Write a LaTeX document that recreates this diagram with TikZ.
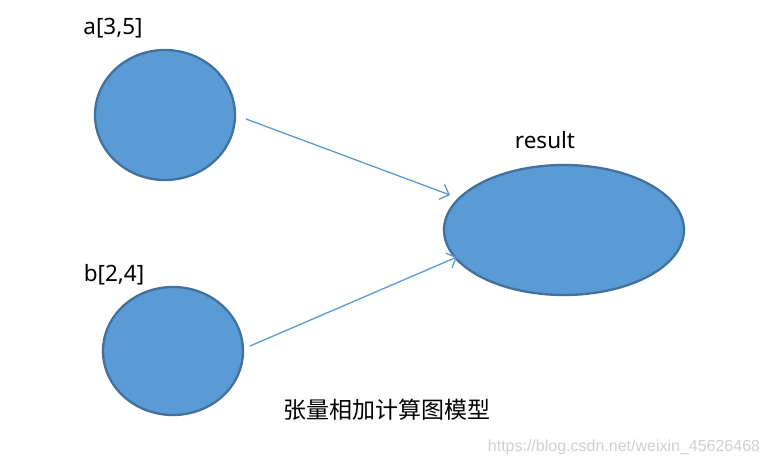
\documentclass[tikz,border=0pt]{standalone}
\usepackage{fontspec}
\setmainfont{Noto Sans}
\newfontfamily\cjk{Noto Sans CJK SC}
\newfontfamily\wmfont{Liberation Sans}
\usetikzlibrary{arrows.meta,shapes.geometric}
\definecolor{nodefill}{HTML}{5B9BD5}
\definecolor{nodeline}{HTML}{41719C}
\definecolor{wmgray}{HTML}{D0D0D0}
\tikzset{
  blob/.style={ellipse, draw=nodeline, fill=nodefill, line width=2.3pt, inner sep=0pt},
  link/.style={draw=nodefill, line width=1.3pt, -{Straight Barb[length=8pt,width=16pt,line width=1.3pt]}},
  lbl/.style={font=\fontsize{22.5}{26}\selectfont, inner sep=0pt}
}
\begin{document}
\begin{tikzpicture}[x=1pt,y=-1pt]
\useasboundingbox[fill=white] (0,0) rectangle (769,468);
\node[blob, minimum width=140pt, minimum height=130pt] (a) at (165,115) {};
\node[blob, minimum width=140pt, minimum height=128pt] (b) at (173,351) {};
\node[blob, minimum width=240pt, minimum height=130pt] (r) at (564,230) {};
\node[lbl] (la) at (113,28) {a[3,5]};
\node[lbl] (lb) at (114,275) {b[2,4]};
\node[lbl] (lr) at (545,140) {result};
\node[inner sep=0pt, font=\cjk\fontsize{23}{26}\selectfont] (cap) at (387,410) {张量相加计算图模型};
\node[inner sep=0pt, text=wmgray, font=\wmfont\fontsize{16}{19}\selectfont] (wm) at (624,447) {https://blog.csdn.net/weixin\_45626468};
\coordinate (as) at (246,119);
\coordinate (ae) at (450,195);
\coordinate (bs) at (250,346);
\coordinate (be) at (457,257);
\draw[link] (as) -- (ae);
\draw[link] (bs) -- (be);
\end{tikzpicture}
\end{document}
